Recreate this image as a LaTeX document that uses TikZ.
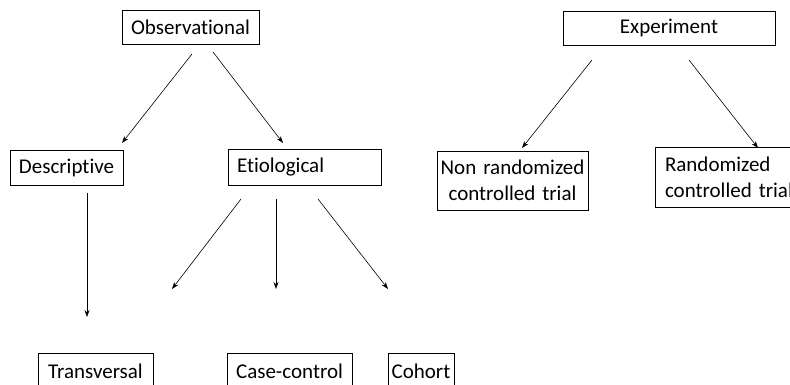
\documentclass[tikz,border=0pt]{standalone}
\usepackage{fontspec}
\setmainfont[Ligatures={NoCommon}]{Carlito}
\usetikzlibrary{arrows.meta}
\begin{document}
\begin{tikzpicture}[x=1pt,y=-1pt,
  box/.style={draw,line width=0.8pt,inner sep=0pt,font=\fontsize{21}{26}\selectfont},
  arr/.style={-{Stealth[length=7pt,width=5pt]},line width=0.6pt}]
\useasboundingbox (0,0) rectangle (790,385);
\clip (0,0) rectangle (790,385);
% boxes
\node[box,minimum width=137pt,minimum height=34pt] (obs) at (190.5,27) {Observational};
\node[box,minimum width=113pt,minimum height=35pt] (desc) at (66.5,167.5) {Descriptive};
\node[box,minimum width=153pt,minimum height=36pt,inner xsep=9pt,text width=135pt,align=left] (etio) at (304.5,167) {Etiological};
\node[box,minimum width=212pt,minimum height=34pt] (exp) at (669,28) {Experiment};
\node[box,minimum width=151pt,minimum height=59pt,text width=151pt,align=center] (nonrand) at (512.5,180.5) {Non randomized\\controlled trial};
\node[box,minimum width=150pt,minimum height=60pt,inner xsep=10pt,text width=130pt,align=left] (rand) at (730,177) {Randomized\\controlled trial};
\node[box,minimum width=115pt,minimum height=36pt] (trans) at (95.5,371) {Transversal};
\node[box,minimum width=125pt,minimum height=36pt] (case) at (289.5,371) {Case-control};
\node[box,minimum width=66pt,minimum height=36pt] (coh) at (421,371) {Cohort};
% arrow end points
\coordinate (o1s) at (192,54);  \coordinate (o1e) at (122,143);
\coordinate (o2s) at (213,52);  \coordinate (o2e) at (283,143);
\coordinate (e1s) at (592,60);  \coordinate (e1e) at (522,148);
\coordinate (e2s) at (689,60);  \coordinate (e2e) at (758,148);
\coordinate (d1s) at (87,193);  \coordinate (d1e) at (87,317);
\coordinate (t1s) at (241,199); \coordinate (t1e) at (172,289);
\coordinate (t2s) at (276,199); \coordinate (t2e) at (276,289);
\coordinate (t3s) at (318,199); \coordinate (t3e) at (388,289);
% arrows
\draw[arr] (o1s) -- (o1e);
\draw[arr] (o2s) -- (o2e);
\draw[arr] (e1s) -- (e1e);
\draw[arr] (e2s) -- (e2e);
\draw[arr] (d1s) -- (d1e);
\draw[arr] (t1s) -- (t1e);
\draw[arr] (t2s) -- (t2e);
\draw[arr] (t3s) -- (t3e);
\end{tikzpicture}
\end{document}
